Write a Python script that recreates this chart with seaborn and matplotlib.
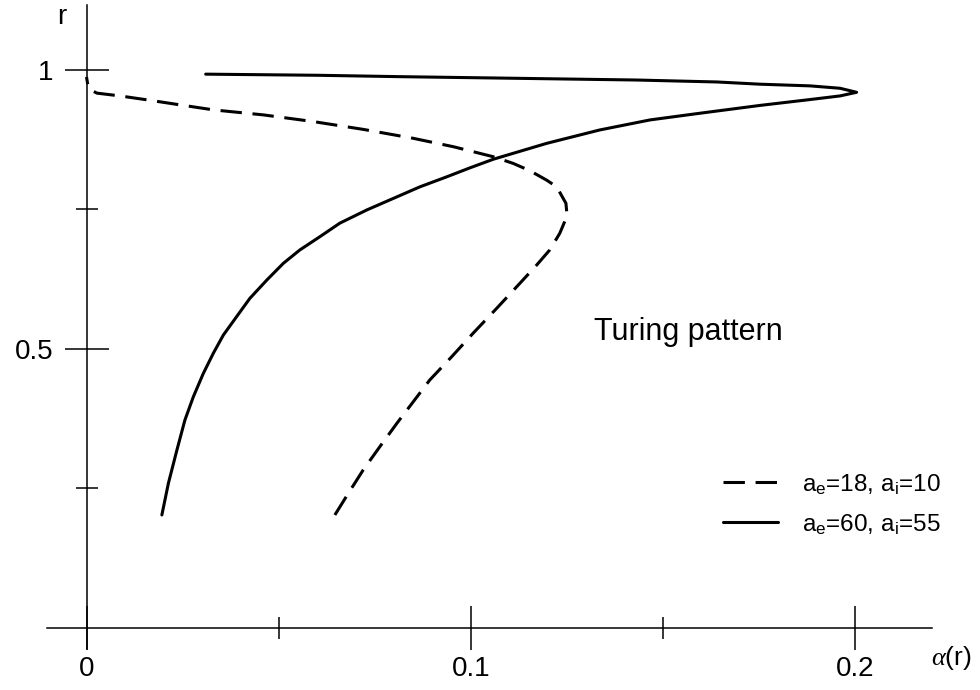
import pandas as pd
import matplotlib
matplotlib.use('Agg')
import matplotlib.pyplot as plt
import seaborn as sns

# data (alpha(r), r) in drawing order
dash_alpha = [0.0646, 0.0681, 0.072, 0.0763, 0.0807, 0.085, 0.0893, 0.095, 0.1006,
              0.1067, 0.1127, 0.1171, 0.1205, 0.1231, 0.125, 0.1247, 0.1223,
              0.1197, 0.1153, 0.111, 0.1058, 0.0954, 0.085, 0.072, 0.059, 0.046,
              0.033, 0.0243, 0.0157, 0.0087, 0.0027, 0.0005, 0.0]
dash_r = [0.202, 0.2408, 0.283, 0.3244, 0.366, 0.405, 0.444, 0.4857, 0.528,
          0.5724, 0.617, 0.65, 0.677, 0.7068, 0.738, 0.7606, 0.790,
          0.802, 0.819, 0.832, 0.844, 0.862, 0.877, 0.893, 0.907, 0.919,
          0.928, 0.937, 0.946, 0.953, 0.958, 0.966, 0.987]

solid_alpha = [0.0196, 0.0213, 0.0235, 0.0256, 0.0278, 0.0304, 0.033, 0.0356, 0.039,
               0.0425, 0.0469, 0.0512, 0.0555, 0.0607, 0.0659, 0.0729, 0.0807, 0.0867,
               0.0937, 0.0997, 0.1058, 0.1197, 0.1335, 0.1466, 0.1596, 0.1752, 0.1882,
               0.196, 0.2003, 0.196, 0.1882, 0.1752, 0.164, 0.143, 0.1075, 0.0816,
               0.06, 0.031]
solid_r = [0.202, 0.2588, 0.318, 0.3722, 0.414, 0.4559, 0.492, 0.5245, 0.557,
           0.5903, 0.623, 0.653, 0.677, 0.7007, 0.725, 0.7486, 0.772, 0.790,
           0.808, 0.824, 0.8395, 0.868, 0.892, 0.91, 0.922, 0.936, 0.9465,
           0.953, 0.9595, 0.9667, 0.971, 0.974, 0.978, 0.9815, 0.985, 0.9875,
           0.990, 0.992]

labels = ['$a_e$=18, $a_i$=10', '$a_e$=60, $a_i$=55']
x_major = [0, 0.1, 0.2]
x_major_labels = ['0', '0.1', '0.2']
x_minor = [0.05, 0.15]
y_major = [0.5, 1]
y_major_labels = ['0.5', '1']
y_minor = [0.25, 0.75]

sns.set_style('white')
plt.rcParams['font.family'] = ['Liberation Sans', 'DejaVu Sans']
plt.rcParams['text.color'] = 'black'
plt.rcParams['xtick.color'] = 'black'
plt.rcParams['ytick.color'] = 'black'
plt.rcParams['mathtext.fontset'] = 'custom'
plt.rcParams['mathtext.rm'] = 'Liberation Sans'
plt.rcParams['mathtext.it'] = 'Liberation Serif:italic'
plt.rcParams['mathtext.default'] = 'regular'

df_dash = pd.DataFrame({'alpha': dash_alpha, 'r': dash_r})
df_solid = pd.DataFrame({'alpha': solid_alpha, 'r': solid_r})

fig = plt.figure(figsize=(9.8, 6.9), dpi=100)
ax = fig.add_axes([0, 0, 1, 1])

sns.lineplot(data=df_dash, x='alpha', y='r', sort=False, estimator=None, color='black',
             lw=2.2, linestyle=(0, (7, 3.5)), label=labels[0], ax=ax)
sns.lineplot(data=df_solid, x='alpha', y='r', sort=False, estimator=None, color='black',
             lw=2.2, label=labels[1], ax=ax)

ax.set_xlim(-0.0225, 0.2324)
ax.set_ylim(-0.1117, 1.1249)

# axes crossing at the origin
for s in ['top', 'right']:
    ax.spines[s].set_visible(False)
ax.spines['left'].set_position(('data', 0))
ax.spines['bottom'].set_position(('data', 0))
ax.spines['left'].set_bounds(-0.038, 1.116)
ax.spines['bottom'].set_bounds(-0.0103, 0.2199)
for s in ['left', 'bottom']:
    ax.spines[s].set_linewidth(1.1)
    ax.spines[s].set_color('black')

ax.set_xticks(x_major)
ax.set_xticklabels(x_major_labels)
ax.set_xticks(x_minor, minor=True)
ax.set_yticks(y_major)
ax.set_yticklabels(y_major_labels)
ax.set_yticks(y_minor, minor=True)
ax.tick_params(which='both', bottom=True, left=True)
ax.tick_params(which='major', direction='inout', length=31, width=1.1, color='black',
               labelsize=20)
ax.tick_params(which='minor', direction='inout', length=16, width=1.1, color='black')
ax.tick_params(axis='x', which='major', pad=5)
ax.tick_params(axis='y', which='major', pad=8)
ax.set_xlabel('')
ax.set_ylabel('')

ax.text(-0.0064, 1.094, 'r', fontsize=20, ha='center', va='center')
ax.text(0.2196, -0.0543, r'$\it{\alpha}$(r)', fontsize=19, ha='left', va='center')
ax.text(0.132, 0.53, 'Turing pattern', fontsize=22, ha='left', va='center')

ax.legend(loc='upper left', bbox_to_anchor=(0.7378, 0.316), bbox_transform=fig.transFigure,
          frameon=False, fontsize=17.5, handlelength=2.25, handletextpad=1.0,
          labelspacing=0.62, borderpad=0, borderaxespad=0)

plt.savefig('out.png', dpi=100)
plt.close()
